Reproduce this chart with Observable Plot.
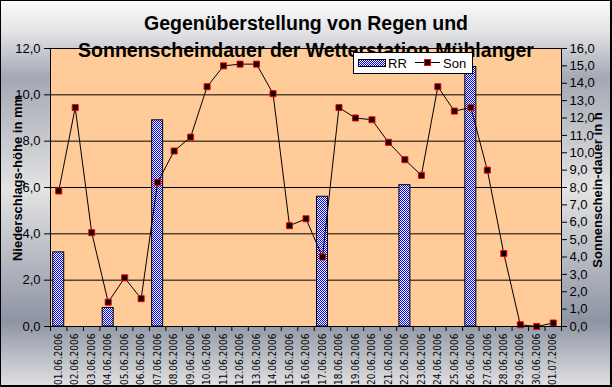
<!DOCTYPE html>
<html>
<head>
<meta charset="utf-8">
<script src="https://cdn.jsdelivr.net/npm/d3@7"></script>
<script src="https://cdn.jsdelivr.net/npm/@observablehq/plot@0.6"></script>
<style>
  html, body { margin: 0; padding: 0; background: #fff; }
  #wrap {
    position: relative; width: 612px; height: 387px; overflow: hidden;
    background: linear-gradient(to bottom, #fbfbfb 0%, #e4e4e7 8%, #a5a8b4 20%, #e3e3e3 49%, #8e94a4 83%, #e2e2e2 100%);
    font-family: "Liberation Sans", Arial, sans-serif;
  }
  #wrap svg.plot { position: absolute; left: 0; top: 0; }
  #border {
    position: absolute; left: 0; top: 0; width: 612px; height: 387px; box-sizing: border-box;
    border-left: 1px solid #000; border-top: 1px solid #000; border-right: 2px solid #000; border-bottom: 2px solid #000;
    pointer-events: none;
  }
  #title {
    position: absolute; left: 0; top: 10px; width: 612px; text-align: center;
    font: bold 19.5px "Liberation Sans", Arial, sans-serif; line-height: 27px; color: #000;
  }
  .ytitle {
    position: absolute; font: bold 13px "Liberation Sans", Arial, sans-serif; white-space: nowrap; color: #000;
    transform: translate(-50%, -50%) rotate(-90deg);
  }
  #legend { position: absolute; left: 353px; top: 52px; }
</style>
</head>
<body>
<div id="wrap"></div>
<script>
const titleLines = ["Gegenüberstellung von Regen und", "Sonnenscheindauer der Wetterstation Mühlanger"];
const leftTitle = "Niederschlags-höhe in mm";
const rightTitle = "Sonnenschein-dauer in h";
const seriesNames = ["RR", "Son"];

const dates = [
  "01.06.2006","02.06.2006","03.06.2006","04.06.2006","05.06.2006","06.06.2006","07.06.2006","08.06.2006",
  "09.06.2006","10.06.2006","11.06.2006","12.06.2006","13.06.2006","14.06.2006","15.06.2006","16.06.2006",
  "17.06.2006","18.06.2006","19.06.2006","20.06.2006","21.06.2006","22.06.2006","23.06.2006","24.06.2006",
  "25.06.2006","26.06.2006","27.06.2006","28.06.2006","29.06.2006","30.06.2006","01.07.2006"
];
// Niederschlag (mm), left axis
const rain = [3.2,0,0,0.8,0,0,8.9,0,0,0,0,0,0,0,0,0,5.6,0,0,0,0,6.1,0,0,0,11.2,0,0,0,0,0];
// Sonnenscheindauer (h), right axis
const sun = [7.8,12.6,5.4,1.4,2.8,1.6,8.3,10.1,10.9,13.8,15.0,15.1,15.1,13.4,5.8,6.2,4.0,12.6,12.0,11.9,10.6,9.6,8.7,13.8,12.4,12.6,9.0,4.2,0.1,0.0,0.2];

const leftTicks = [0,2,4,6,8,10,12];
const rightTicks = [0,1,2,3,4,5,6,7,8,9,10,11,12,13,14,15,16];
const leftMax = 12, rightMax = 16;
const k = leftMax / rightMax; // maps right axis values into left scale

const fmt = d => d.toFixed(1).replace(".", ",");
const idx = dates.map((d, i) => i);
const rainIdx = idx.filter(i => rain[i] > 0);

const wrap = document.getElementById("wrap");

const chart = Plot.plot({
  width: 612, height: 387,
  marginLeft: 50, marginRight: 51, marginTop: 48, marginBottom: 61,
  style: { background: "transparent", color: "#000", fontFamily: '"Liberation Sans", Arial, sans-serif' },
  x: { type: "linear", domain: [0, dates.length] },
  y: { domain: [0, leftMax] },
  marks: [
    Plot.frame({ fill: "#ffcc99", stroke: null }),
    Plot.gridY(leftTicks.filter(d => d > 0), { stroke: "#000", strokeOpacity: 1, strokeWidth: 1 }),
    Plot.rectY(rainIdx, {
      x1: i => i, x2: i => i + 1, y1: 0, y2: i => rain[i],
      insetLeft: 2.75, insetRight: 2.75,
      fill: "url(#chk)", stroke: "#000", strokeWidth: 1
    }),
    Plot.line(idx, { x: i => i + 0.5, y: i => sun[i] * k, stroke: "#000", strokeWidth: 1 }),
    Plot.dot(idx, { x: i => i + 0.5, y: i => sun[i] * k, symbol: "square", r: 3.4, fill: "#000", stroke: "#ff0000", strokeWidth: 1 }),
    Plot.ruleX([0], { stroke: "#000" }),
    Plot.ruleX([dates.length], { stroke: "#000" }),
    Plot.ruleY([0], { stroke: "#000" }),
    Plot.axisY(leftTicks, {
      anchor: "left", tickFormat: fmt, tickSize: 6, tickPadding: 4, label: null,
      fontSize: 13, stroke: "#000", fill: "#000"
    }),
    Plot.axisY(rightTicks.map(v => v * k), {
      anchor: "right", tickFormat: d => fmt(d / k), tickSize: 5, tickPadding: 3, label: null,
      fontSize: 13, stroke: "#000", fill: "#000"
    }),
    Plot.axisX(d3.range(dates.length + 1), {
      anchor: "bottom", tickFormat: () => "", tickSize: 5, label: null, stroke: "#000"
    }),
    Plot.axisX(idx.map(i => i + 0.5), {
      anchor: "bottom", tickFormat: d => dates[Math.floor(d)], tickSize: 0, tickPadding: 7,
      tickRotate: -90, label: null, fontSize: 10, fill: "#000",
      fontFamily: '"Liberation Sans Narrow", "Arial Narrow", "DejaVu Sans Condensed", sans-serif'
    })
  ]
});
chart.classList.add("plot");

// checkered blue pattern for the rain bars
const ns = "http://www.w3.org/2000/svg";
const defs = document.createElementNS(ns, "defs");
defs.innerHTML = '<pattern id="chk" width="2" height="2" patternUnits="userSpaceOnUse">' +
  '<rect width="2" height="2" fill="#ffffff"/><rect width="1" height="1" fill="#0000ff"/>' +
  '<rect x="1" y="1" width="1" height="1" fill="#0000ff"/></pattern>';
chart.insertBefore(defs, chart.firstChild);
wrap.appendChild(chart);

// title
const title = document.createElement("div");
title.id = "title";
title.innerHTML = titleLines.join("<br>");
wrap.appendChild(title);

// axis titles
const lt = document.createElement("div");
lt.className = "ytitle"; lt.textContent = leftTitle;
lt.style.left = "17px"; lt.style.top = "178px";
wrap.appendChild(lt);
const rt = document.createElement("div");
rt.className = "ytitle"; rt.textContent = rightTitle;
rt.style.left = "597px"; rt.style.top = "190px";
wrap.appendChild(rt);

// legend
const leg = document.createElement("div");
leg.id = "legend";
leg.innerHTML =
  '<svg width="120" height="22" style="display:block">' +
  '<defs><pattern id="chk2" width="2" height="2" patternUnits="userSpaceOnUse">' +
  '<rect width="2" height="2" fill="#ffffff"/><rect width="1" height="1" fill="#0000ff"/>' +
  '<rect x="1" y="1" width="1" height="1" fill="#0000ff"/></pattern></defs>' +
  '<rect x="0.5" y="0.5" width="119" height="21" fill="#fff" stroke="#000"/>' +
  '<rect x="5.5" y="7.5" width="27" height="7" fill="url(#chk2)" stroke="#000"/>' +
  '<text x="35" y="15.5" font-family="Liberation Sans, Arial, sans-serif" font-size="13" fill="#000">' + seriesNames[0] + '</text>' +
  '<line x1="62" x2="87" y1="10.5" y2="10.5" stroke="#000"/>' +
  '<rect x="71.5" y="7.5" width="6" height="6" fill="#000" stroke="#ff0000"/>' +
  '<text x="90" y="15.5" font-family="Liberation Sans, Arial, sans-serif" font-size="13" fill="#000">' + seriesNames[1] + '</text>' +
  '</svg>';
wrap.appendChild(leg);

const border = document.createElement("div");
border.id = "border";
wrap.appendChild(border);
</script>
</body>
</html>
